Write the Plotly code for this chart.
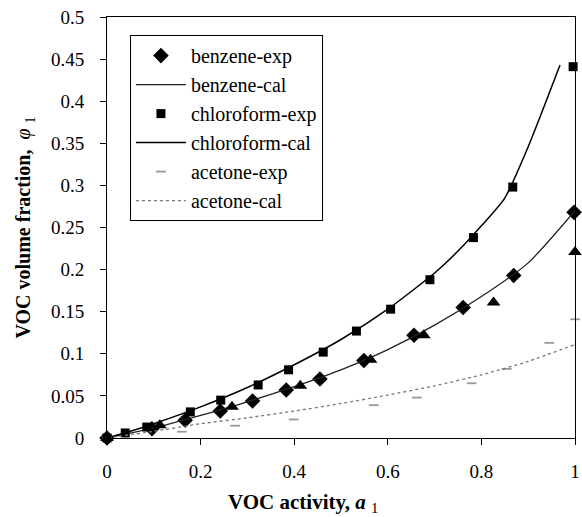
import plotly.graph_objects as go

# experimental data
benz_x = [0, 0.096, 0.167, 0.242, 0.311, 0.383, 0.455, 0.549, 0.656, 0.761, 0.869, 0.998]
benz_y = [0, 0.011, 0.021, 0.032, 0.044, 0.057, 0.070, 0.092, 0.122, 0.155, 0.193, 0.268]

chl_x = [0, 0.039, 0.085, 0.178, 0.243, 0.323, 0.388, 0.462, 0.533, 0.606, 0.690, 0.783, 0.867, 0.996]
chl_y = [0, 0.006, 0.013, 0.031, 0.045, 0.063, 0.081, 0.102, 0.127, 0.153, 0.188, 0.238, 0.298, 0.441]

ace_x = [0, 0.16, 0.274, 0.399, 0.570, 0.662, 0.779, 0.854, 0.945, 1.0]
ace_y = [0, 0.0075, 0.0146, 0.022, 0.039, 0.048, 0.065, 0.082, 0.113, 0.141]

tri_x = [0, 0.113, 0.267, 0.413, 0.563, 0.677, 0.826, 1.0]
tri_y = [0, 0.015, 0.037, 0.062, 0.093, 0.122, 0.161, 0.221]

# calculated curves
benz_cal_x = [0, 0.1, 0.2, 0.3, 0.4, 0.5, 0.6, 0.7, 0.8, 0.9, 1.0]
benz_cal_y = [0, 0.012, 0.027, 0.043, 0.061, 0.081, 0.105, 0.134, 0.168, 0.208, 0.270]

chl_cal_x = [0, 0.05, 0.1, 0.2, 0.3, 0.4, 0.5, 0.6, 0.7, 0.75, 0.8, 0.85, 0.9, 0.968]
chl_cal_y = [0, 0.008, 0.017, 0.037, 0.060, 0.087, 0.117, 0.153, 0.196, 0.222, 0.252, 0.285, 0.346, 0.443]

ace_cal_x = [0, 0.1, 0.2, 0.3, 0.4, 0.5, 0.6, 0.7, 0.8, 0.9, 1.0]
ace_cal_y = [0, 0.008, 0.017, 0.024, 0.032, 0.041, 0.051, 0.062, 0.075, 0.091, 0.111]

x_ticks = [0, 0.2, 0.4, 0.6, 0.8, 1]
x_tick_text = ["0", "0.2", "0.4", "0.6", "0.8", "1"]
y_ticks = [0, 0.05, 0.1, 0.15, 0.2, 0.25, 0.3, 0.35, 0.4, 0.45, 0.5]
y_tick_text = ["0", "0.05", "0.1", "0.15", "0.2", "0.25", "0.3", "0.35", "0.4", "0.45", "0.5"]

x_title = "<b>VOC activity, <i>a</i></b> <sub>1</sub>"
y_title = "<b>VOC volume fraction,</b>  <i>φ</i> <sub>1</sub>"

FONT = "Liberation Serif"

fig = go.Figure()
fig.add_trace(go.Scatter(x=benz_x, y=benz_y, mode="markers", name="benzene-exp", cliponaxis=False,
                         marker=dict(symbol="diamond", size=12, color="black")))
fig.add_trace(go.Scatter(x=benz_cal_x, y=benz_cal_y, mode="lines", name="benzene-cal",
                         line=dict(color="#222222", width=1.3, shape="spline", smoothing=0.6)))
fig.add_trace(go.Scatter(x=chl_x, y=chl_y, mode="markers", name="chloroform-exp", cliponaxis=False,
                         marker=dict(symbol="square", size=9, color="black")))
fig.add_trace(go.Scatter(x=chl_cal_x, y=chl_cal_y, mode="lines", name="chloroform-cal",
                         line=dict(color="black", width=1.5, shape="spline", smoothing=0.6)))
fig.add_trace(go.Scatter(x=ace_x, y=ace_y, mode="markers", name="acetone-exp", cliponaxis=False,
                         marker=dict(symbol="line-ew", size=7, color="#999999",
                                     line=dict(color="#999999", width=1.8))))
fig.add_trace(go.Scatter(x=ace_cal_x, y=ace_cal_y, mode="lines", name="acetone-cal",
                         line=dict(color="#777777", width=1.3, dash="dot", shape="spline", smoothing=0.6)))
fig.add_trace(go.Scatter(x=tri_x, y=tri_y, mode="markers", showlegend=False, cliponaxis=False,
                         marker=dict(symbol="triangle-up", size=12, color="black")))

axis_common = dict(showline=True, linecolor="black", linewidth=1, mirror=True,
                   ticks="outside", ticklen=6, tickcolor="black", showgrid=False,
                   zeroline=False, automargin=False,
                   tickfont=dict(family=FONT, size=19, color="black"))

fig.update_layout(
    width=582, height=517,
    margin=dict(l=107, r=7, t=17, b=79),
    paper_bgcolor="white", plot_bgcolor="white",
    font=dict(family=FONT, color="black"),
    xaxis=dict(range=[0, 1], tickvals=x_ticks, ticktext=x_tick_text,
               ticklabelstandoff=10, **axis_common),
    yaxis=dict(range=[0, 0.5], tickvals=y_ticks, ticktext=y_tick_text,
               ticklabelstandoff=12,
               title=dict(text=y_title, font=dict(family=FONT, size=20), standoff=14),
               **axis_common),
    legend=dict(x=0.049, y=0.957, xanchor="left", yanchor="top",
                bgcolor="white", bordercolor="black", borderwidth=1,
                font=dict(family=FONT, size=20, color="black"),
                itemwidth=50, tracegroupgap=0),
    annotations=[dict(text=x_title, xref="paper", yref="paper", x=0.419, y=-0.154,
                      xanchor="center", yanchor="middle", showarrow=False,
                      font=dict(family=FONT, size=21, color="black"))],
)

fig.write_html("out.html", config={"displayModeBar": False},
               post_script="document.body.style.margin='0';")
